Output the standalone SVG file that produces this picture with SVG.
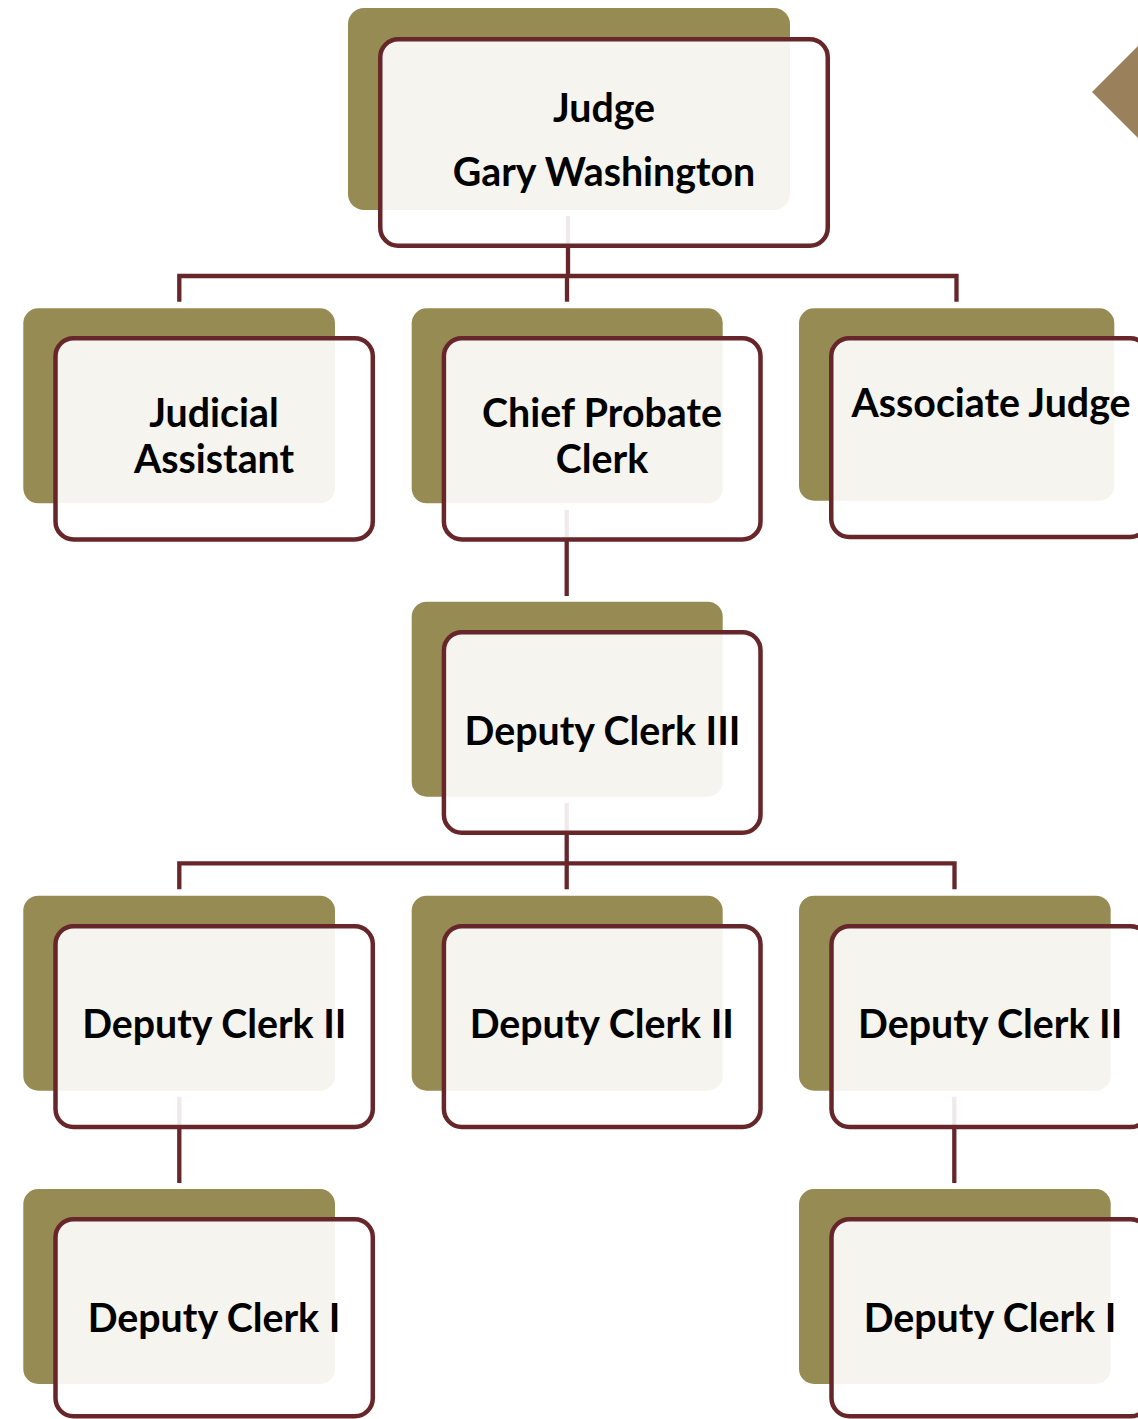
<svg xmlns="http://www.w3.org/2000/svg" width="1138" height="1419" viewBox="0 0 1138 1419">
<style>
.back{fill:#968b53}
.box{fill:#ffffff;fill-opacity:0.9;stroke:#67262a;stroke-width:4.5}
.conn{fill:none;stroke:#67262a;stroke-width:4.3;stroke-linejoin:miter;stroke-linecap:butt}
text{font-family:Lato,"Open Sans","Liberation Sans",sans-serif;font-weight:bold;font-size:39.3px;fill:#000;text-anchor:middle}
</style>
<rect width="1138" height="1419" fill="#ffffff"/>
<polygon points="1092,92 1138,46 1184,92 1138,138" fill="#9b805c"/>
<g id="connectors">
<path class="conn" d="M568,216 V276"/>
<path class="conn" d="M179.3,301.7 V276 H956.5 V301.7"/>
<path class="conn" d="M567,276 V301.7"/>
<path class="conn" d="M566.7,510 V596"/>
<path class="conn" d="M566.7,803 V889.3"/>
<path class="conn" d="M179.3,889.3 V863.3 H954.5 V889.3"/>
<path class="conn" d="M179.3,1096.7 V1183"/>
<path class="conn" d="M954.3,1096.7 V1183"/>
</g>
<g id="judge">
<rect class="back" x="348" y="8" width="442" height="202" rx="16"/>
<rect class="box" x="380.25" y="39.25" width="447.5" height="206.5" rx="18"/>
<text x="604" y="122">Judge</text>
<text x="604" y="186">Gary Washington</text>
</g>
<g id="judicial-assistant">
<rect class="back" x="23.3" y="308.3" width="311.7" height="195" rx="15"/>
<rect class="box" x="55.5" y="338.25" width="317.3" height="201.2" rx="18"/>
<text x="214" y="426.7">Judicial</text>
<text x="214" y="473.3">Assistant</text>
</g>
<g id="chief-probate-clerk">
<rect class="back" x="411.7" y="308.3" width="311" height="195" rx="15"/>
<rect class="box" x="443.9" y="338.25" width="316.6" height="201.2" rx="18"/>
<text x="602" y="426.7">Chief Probate</text>
<text x="602" y="473.3">Clerk</text>
</g>
<g id="associate-judge">
<rect class="back" x="799" y="308.3" width="315.3" height="192.4" rx="15"/>
<rect class="box" x="831.25" y="338.25" width="317" height="198.8" rx="18"/>
<text x="991" y="416.7">Associate Judge</text>
</g>
<g id="deputy-clerk-iii">
<rect class="back" x="411.7" y="601.7" width="311" height="195" rx="15"/>
<rect class="box" x="443.9" y="632.25" width="316.6" height="200.5" rx="18"/>
<text x="602.5" y="745">Deputy Clerk III</text>
</g>
<g id="deputy-clerk-ii-left">
<rect class="back" x="23.3" y="895.7" width="311.7" height="195" rx="15"/>
<rect class="box" x="55.5" y="926.25" width="317.3" height="200.8" rx="18"/>
<text x="214.3" y="1038.3">Deputy Clerk II</text>
</g>
<g id="deputy-clerk-ii-middle">
<rect class="back" x="411.7" y="895.7" width="311" height="195" rx="15"/>
<rect class="box" x="443.9" y="926.25" width="316.6" height="200.8" rx="18"/>
<text x="601.8" y="1038.3">Deputy Clerk II</text>
</g>
<g id="deputy-clerk-ii-right">
<rect class="back" x="799" y="895.7" width="311.7" height="195" rx="15"/>
<rect class="box" x="831.5" y="926.25" width="317" height="200.8" rx="18"/>
<text x="990.2" y="1038.3">Deputy Clerk II</text>
</g>
<g id="deputy-clerk-i-left">
<rect class="back" x="23.3" y="1189" width="311.7" height="195" rx="15"/>
<rect class="box" x="55.5" y="1219.25" width="317.3" height="197" rx="18"/>
<text x="214" y="1331.7">Deputy Clerk I</text>
</g>
<g id="deputy-clerk-i-right">
<rect class="back" x="799" y="1189" width="311.7" height="195" rx="15"/>
<rect class="box" x="831.5" y="1219.25" width="317" height="197" rx="18"/>
<text x="990" y="1331.7">Deputy Clerk I</text>
</g>
</svg>
